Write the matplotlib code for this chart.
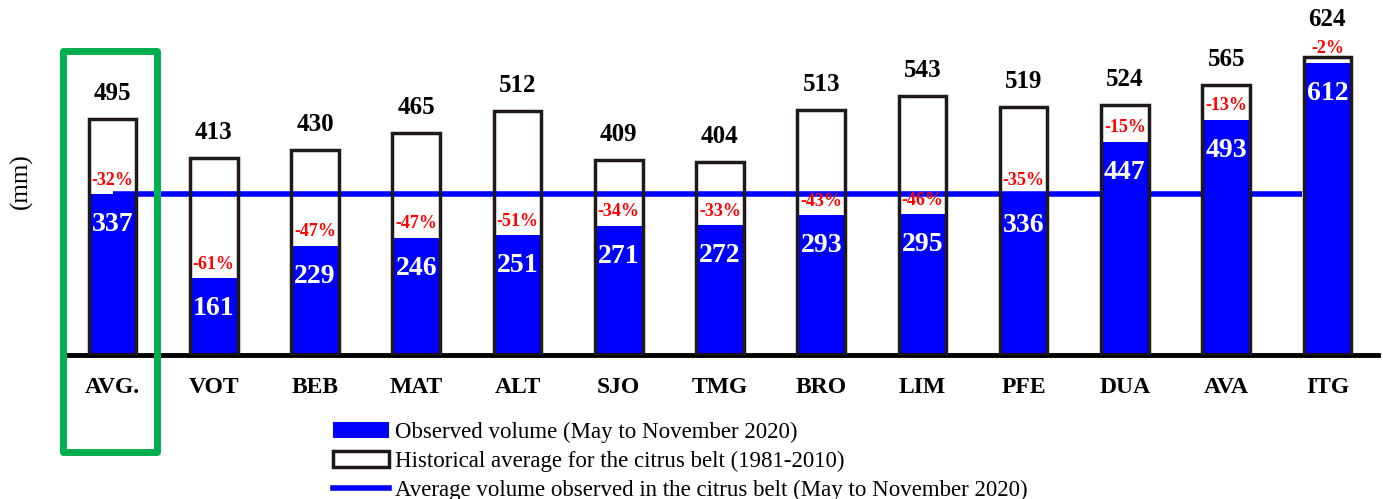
import matplotlib.pyplot as plt
import matplotlib
from matplotlib.patches import Patch, Rectangle
from matplotlib.lines import Line2D

matplotlib.rcParams['font.family'] = ['Liberation Serif', 'DejaVu Serif']

stations = ['AVG.', 'VOT', 'BEB', 'MAT', 'ALT', 'SJO', 'TMG', 'BRO', 'LIM', 'PFE', 'DUA', 'AVA', 'ITG']
historical = [495, 413, 430, 465, 512, 409, 404, 513, 543, 519, 524, 565, 624]
observed = [337, 161, 229, 246, 251, 271, 272, 293, 295, 336, 447, 493, 612]
anomaly = ['-32%', '-61%', '-47%', '-47%', '-51%', '-34%', '-33%', '-43%', '-46%', '-35%', '-15%', '-13%', '-2%']
belt_avg = 337

fig = plt.figure(figsize=(13.83, 4.99), dpi=100)
ax = fig.add_axes([0.0448, 0.2886, 0.9516, 0.6697])
x = list(range(len(stations)))
w = 0.47

ax.bar(x, observed, width=w, color='#0000ff', linewidth=0, zorder=2)
ax.plot([0, len(stations) - 1 - 0.25], [belt_avg, belt_avg], color='#0000ff', lw=4, zorder=3,
        solid_capstyle='butt')
ax.bar(x, historical, width=w, facecolor='none', edgecolor='#1f1a17', linewidth=2.5, zorder=4)

for i in x:
    up = 19 if i == len(stations) - 1 else 10
    ax.annotate(str(historical[i]), (i, historical[i]), xytext=(0, up), textcoords='offset points',
                ha='center', va='bottom', fontsize=18, fontweight='bold', color='black')
    ax.annotate(anomaly[i], (i, observed[i]), xytext=(0, 4), textcoords='offset points',
                ha='center', va='bottom', fontsize=13, fontweight='bold', color='red', zorder=5)
    ax.annotate(str(observed[i]), (i, observed[i]), xytext=(0, -22), textcoords='offset points',
                ha='center', va='center', fontsize=20, fontweight='bold', color='white', zorder=5)

ax.set_xlim(-0.5, 12.5)
ax.set_ylim(0, 700)
ax.set_yticks([])
ax.set_xticks(x)
ax.set_xticklabels(stations, fontsize=17, fontweight='bold')
ax.tick_params(axis='x', length=0, pad=16)
for s in ['top', 'right', 'left']:
    ax.spines[s].set_visible(False)
ax.spines['bottom'].set_linewidth(3.5)
ax.spines['bottom'].set_color('black')
ax.set_ylabel('(mm)', fontsize=18)
ax.yaxis.set_label_coords(-0.022, 0.52)

# caixa verde destacando a média
fig.add_artist(Rectangle((63 / 1383, 1 - 452 / 499), 94 / 1383, 401 / 499, transform=fig.transFigure,
                         fill=False, edgecolor='#00b050', linewidth=5, joinstyle='round'))

handles = [Patch(facecolor='#0000ff', edgecolor='none'),
           Patch(facecolor='white', edgecolor='#1f1a17', linewidth=2.5),
           Line2D([0], [0], color='#0000ff', lw=4)]
labels = ['Observed volume (May to November 2020)',
          'Historical average for the citrus belt (1981-2010)',
          'Average volume observed in the citrus belt (May to November 2020)']
fig.legend(handles, labels, loc='upper left', bbox_to_anchor=(333 / 1383, 1 - 422 / 499),
           frameon=False, fontsize=16.5, handlelength=2.45, handletextpad=0.25, labelspacing=0.33,
           borderpad=0, borderaxespad=0)

plt.savefig('out.png', dpi=100)
plt.close()
